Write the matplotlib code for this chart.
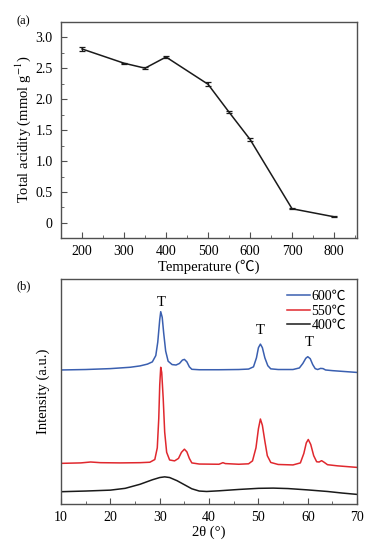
import matplotlib
matplotlib.use("Agg")
import matplotlib.pyplot as plt
from matplotlib.ticker import MultipleLocator

plt.rcParams['font.family'] = ['Liberation Serif', 'Noto Sans CJK SC', 'DejaVu Sans']
plt.rcParams['mathtext.fontset'] = 'stix'

# (a) total acidity vs calcination temperature
temps = [200, 300, 350, 400, 500, 550, 600, 700, 800]
acidity = [2.81, 2.58, 2.50, 2.68, 2.24, 1.79, 1.35, 0.23, 0.10]
acidity_err = [0.03, 0.005, 0.015, 0.02, 0.03, 0.015, 0.03, 0.01, 0.01]

# (b) XRD patterns (offset intensities, a.u.)
tt_600 = [10, 15, 20, 24, 26, 27.5, 28.5, 29.2, 29.6, 30.0, 30.2, 30.5, 30.8, 31.2, 31.7,
          32.5, 33.3, 34.0, 34.6, 35.0, 35.5, 36.0, 36.5, 38, 42, 46, 48, 49.0, 49.6,
          50.0, 50.4, 50.8, 51.3, 51.9, 52.5, 54, 57, 58.3, 59.0, 59.6, 60.0, 60.5, 61.0,
          61.5, 62.0, 62.6, 63.1, 63.6, 65, 70]
int_600 = [59.6, 59.8, 60.2, 60.8, 61.4, 62.2, 63.2, 66, 72, 82, 85.5, 83, 76, 68, 63.5,
           62, 61.8, 62.5, 64.0, 64.3, 63.2, 61, 59.9, 59.7, 59.7, 59.8, 60.0, 61.0, 65,
           69.5, 71.1, 69.5, 65, 61.5, 60.1, 59.8, 59.8, 60.5, 62.5, 64.8, 65.5, 64.6, 62.0,
           60.2, 59.8, 60.3, 60.2, 59.6, 59.3, 58.5]

tt_550 = [10, 14, 16, 18, 22, 26, 28, 29.0, 29.5, 29.8, 30.0, 30.2, 30.4, 30.7, 31.0,
          31.4, 32, 33, 33.8, 34.4, 35.0, 35.5, 36, 36.5, 38, 42, 42.8, 43.3, 46, 48,
          48.8, 49.5, 50.0, 50.4, 50.8, 51.3, 51.8, 52.5, 54, 57, 58.5, 59.2, 59.7, 60.1,
          60.6, 61.2, 61.8, 62.3, 62.8, 63.3, 64, 66, 70]
int_550 = [18.1, 18.3, 18.7, 18.4, 18.3, 18.4, 18.6, 19.8, 25, 38, 53, 60.8, 58.5, 47, 32,
           23, 19.6, 19.2, 20.3, 23, 24.4, 23.2, 20.3, 18.3, 17.8, 17.7, 18.4, 18.0, 17.7, 17.9,
           19.2, 25, 33.5, 37.8, 35, 28, 21.5, 18.5, 17.6, 17.4, 18.3, 22.5, 27.2, 28.7,
           26.5, 21.5, 18.8, 18.7, 19.3, 18.6, 17.5, 17, 16.3]

tt_400 = [10, 15, 20, 23, 26, 28.5, 30, 31, 32, 33.5, 35, 36.5, 38, 39.5, 42, 46, 50,
          53, 56, 60, 64, 67, 70]
int_400 = [5.5, 5.8, 6.2, 7.0, 8.8, 10.8, 11.8, 12.1, 11.8, 10.4, 8.6, 6.8, 5.8, 5.6,
           5.9, 6.5, 7.0, 7.1, 6.9, 6.3, 5.6, 4.9, 4.3]

peak_pos = [30.2, 50.4, 60.2]
peak_label_y = [89.6, 77.3, 71.7]

fig = plt.figure(figsize=(3.84, 5.57), dpi=100)
ax1 = fig.add_axes([0.159, 0.573, 0.771, 0.388])
ax2 = fig.add_axes([0.159, 0.095, 0.771, 0.404])

frame = '#505050'

# panel (a)
ax1.errorbar(temps, acidity, yerr=acidity_err, color='#1a1a1a', lw=1.1,
             capsize=2, elinewidth=0.9, capthick=0.9)
ax1.set_xlim(150, 855)
ax1.set_ylim(-0.24, 3.25)
ax1.xaxis.set_minor_locator(MultipleLocator(50))
ax1.yaxis.set_minor_locator(MultipleLocator(0.25))
ax1.set_xticks([200, 300, 400, 500, 600, 700, 800])
ax1.set_yticks([0, 0.5, 1.0, 1.5, 2.0, 2.5, 3.0])
ax1.set_yticklabels(['0', '0.5', '1.0', '1.5', '2.0', '2.5', '3.0'])
ax1.set_xlabel('Temperature (\u2103)', fontsize=10.5, labelpad=1)
ax1.set_ylabel('Total acidity (mmol g$^{-1}$)', fontsize=10.5, labelpad=2)
ax1.text(-0.15, 1.0, '(a)', transform=ax1.transAxes, fontsize=9, va='center')

# panel (b)
ax2.plot(tt_600, int_600, color='#3a5fb0', lw=1.1, label='600\u2103')
ax2.plot(tt_550, int_550, color='#e0282e', lw=1.1, label='550\u2103')
ax2.plot(tt_400, int_400, color='#1a1a1a', lw=1.1, label='400\u2103')
for xp, yp in zip(peak_pos, peak_label_y):
    ax2.text(xp, yp, 'T', ha='center', va='center', fontsize=10.5)
ax2.set_xlim(10, 70)
ax2.set_ylim(0, 100)
ax2.xaxis.set_major_locator(MultipleLocator(10))
ax2.xaxis.set_minor_locator(MultipleLocator(5))
ax2.set_yticks([])
ax2.set_xlabel('2\u03b8 (\u00b0)', fontsize=10.5, labelpad=1)
ax2.set_ylabel('Intensity (a.u.)', fontsize=10.5, labelpad=8)
ax2.text(-0.15, 0.97, '(b)', transform=ax2.transAxes, fontsize=9, va='center')
ax2.legend(loc='upper right', frameon=False, fontsize=10, handlelength=1.65,
           handletextpad=0.1, labelspacing=0.1, borderaxespad=0.4)

for ax in (ax1, ax2):
    for sp in ax.spines.values():
        sp.set_color(frame)
        sp.set_linewidth(1.0)
    ax.tick_params(which='both', direction='in', color=frame, labelsize=10,
                   top=False, right=False)
    ax.tick_params(which='major', length=4)
    ax.tick_params(which='minor', length=2.5)
    ax.tick_params(axis='x', pad=5)
    ax.tick_params(axis='y', pad=6)

fig.savefig('out.png', dpi=100)
